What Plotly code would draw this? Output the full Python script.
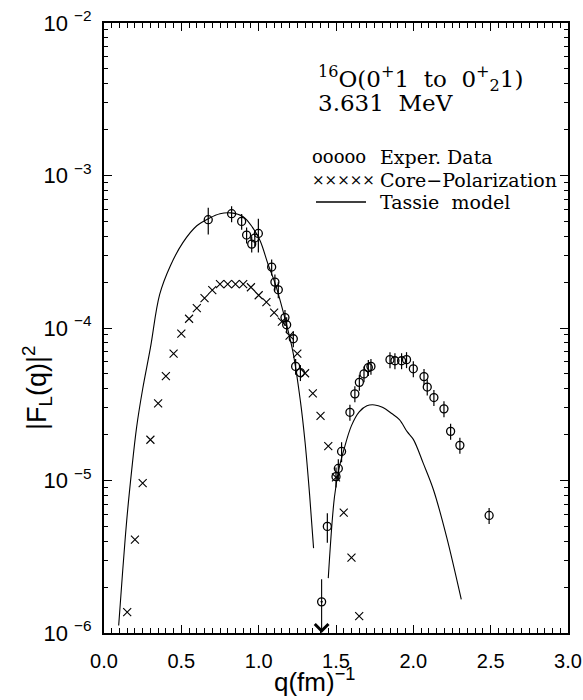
import math
import plotly.graph_objects as go

# ---------------- data ----------------
# Experimental data (circles with error bars)
exp_q = [0.674, 0.825, 0.890, 0.922, 0.955, 0.975, 0.998, 1.084, 1.105, 1.127,
         1.170, 1.181, 1.224, 1.239, 1.270,
         1.444, 1.500, 1.515, 1.536, 1.590, 1.622, 1.651, 1.681, 1.709, 1.726,
         1.849, 1.881, 1.924, 1.956, 2.000, 2.069, 2.090, 2.133, 2.198, 2.241,
         2.301, 2.490]
exp_f = [5.13e-4, 5.62e-4, 5.0e-4, 4.07e-4, 3.55e-4, 3.89e-4, 4.17e-4, 2.51e-4, 2.0e-4, 1.78e-4,
         1.17e-4, 1.05e-4, 8.5e-5, 5.6e-5, 5.1e-5,
         5.0e-6, 1.06e-5, 1.2e-5, 1.55e-5, 2.8e-5, 3.7e-5, 4.4e-5, 5.0e-5, 5.5e-5, 5.6e-5,
         6.2e-5, 6.1e-5, 6.1e-5, 6.2e-5, 5.4e-5, 4.8e-5, 4.1e-5, 3.5e-5, 2.95e-5, 2.1e-5,
         1.7e-5, 5.9e-6]
exp_rel_err = [0.20, 0.12, 0.12, 0.12, 0.12, 0.12, 0.25, 0.12, 0.12, 0.12,
               0.12, 0.12, 0.12, 0.12, 0.12,
               0.22, 0.15, 0.15, 0.15, 0.12, 0.12, 0.12, 0.12, 0.12, 0.12,
               0.12, 0.12, 0.12, 0.12, 0.12, 0.12, 0.12, 0.12, 0.12, 0.12,
               0.12, 0.12]

# Upper-limit point (arrow down)
ul_q = [1.407]
ul_f = [1.6e-6]
ul_top = [2.3e-6]
ul_tip = [1.0e-6]

# Core-polarization (crosses)
cp_q = [0.15, 0.20, 0.25, 0.30, 0.35, 0.40, 0.45, 0.50, 0.55, 0.60,
        0.65, 0.70, 0.75, 0.80, 0.85, 0.90, 0.95, 1.00, 1.05, 1.10,
        1.15, 1.20, 1.25, 1.30, 1.35, 1.40, 1.45, 1.50, 1.55, 1.60, 1.65]
cp_f = [1.37e-6, 4.1e-6, 9.6e-6, 1.85e-5, 3.2e-5, 4.84e-5, 6.8e-5, 9.2e-5, 1.15e-4, 1.35e-4,
        1.57e-4, 1.77e-4, 1.94e-4, 1.94e-4, 1.94e-4, 1.94e-4, 1.85e-4, 1.64e-4, 1.48e-4, 1.26e-4,
        1.10e-4, 8.9e-5, 6.8e-5, 5.05e-5, 3.73e-5, 2.65e-5, 1.68e-5, 1.05e-5, 6.15e-6, 3.12e-6, 1.29e-6]

# Tassie model (solid line, two lobes)
tassie_q1 = [0.095, 0.121, 0.147, 0.179, 0.211, 0.25, 0.30, 0.36, 0.43, 0.51,
             0.60, 0.68, 0.75, 0.82, 0.90, 0.96, 1.01, 1.06, 1.11, 1.16,
             1.22, 1.27, 1.30, 1.33, 1.355]
tassie_f1 = [1.12e-6, 2.57e-6, 5.5e-6, 1.17e-5, 2.24e-5, 3.98e-5, 7.4e-5, 1.66e-4, 2.57e-4, 3.63e-4,
             4.68e-4, 5.25e-4, 5.62e-4, 5.69e-4, 5.37e-4, 4.57e-4, 3.72e-4, 2.63e-4, 1.91e-4, 1.26e-4,
             7.1e-5, 3.3e-5, 1.78e-5, 7.9e-6, 3.6e-6]
tassie_q2 = [1.45, 1.49, 1.52, 1.55, 1.60, 1.65, 1.70, 1.75, 1.80, 1.86,
             1.91, 1.96, 2.00, 2.065, 2.13, 2.215, 2.31]
tassie_f2 = [2.29e-6, 7.8e-6, 1.2e-5, 1.58e-5, 2.29e-5, 2.82e-5, 3.09e-5, 3.13e-5, 3.02e-5, 2.75e-5,
             2.51e-5, 2.09e-5, 1.86e-5, 1.29e-5, 8.7e-6, 4.27e-6, 1.66e-6]

# Axis ticks
x_ticks = [0.0, 0.5, 1.0, 1.5, 2.0, 2.5, 3.0]
x_ticklabels = ["0.0", "0.5", "1.0", "1.5", "2.0", "2.5", "3.0"]
y_exponents = [-6, -5, -4, -3, -2]

# ---------------- figure ----------------
BLACK = "#000000"
fig = go.Figure()

fig.add_trace(go.Scatter(x=tassie_q1, y=tassie_f1, mode="lines",
                         line=dict(color=BLACK, width=1.1, shape="spline"),
                         showlegend=False, hoverinfo="skip"))
fig.add_trace(go.Scatter(x=tassie_q2, y=tassie_f2, mode="lines",
                         line=dict(color=BLACK, width=1.1, shape="spline"),
                         showlegend=False, hoverinfo="skip"))

fig.add_trace(go.Scatter(x=cp_q, y=cp_f, mode="markers",
                         marker=dict(symbol="x-thin-open", size=8, color=BLACK,
                                     line=dict(color=BLACK, width=1.1)),
                         showlegend=False))

err_plus = [f * e for f, e in zip(exp_f, exp_rel_err)]
err_minus = [f * e for f, e in zip(exp_f, exp_rel_err)]
fig.add_trace(go.Scatter(x=exp_q, y=exp_f, mode="markers",
                         marker=dict(symbol="circle-open", size=8, color=BLACK,
                                     line=dict(color=BLACK, width=1.3)),
                         error_y=dict(type="data", symmetric=False, array=err_plus,
                                      arrayminus=err_minus, color=BLACK,
                                      thickness=1.2, width=0),
                         showlegend=False))

fig.add_trace(go.Scatter(x=ul_q, y=ul_f, mode="markers",
                         marker=dict(symbol="circle-open-dot", size=8, color=BLACK,
                                     line=dict(color=BLACK, width=1.3)),
                         showlegend=False))
for q, top, tip in zip(ul_q, ul_top, ul_tip):
    fig.add_annotation(x=q, y=math.log10(tip), ax=q, ay=math.log10(top),
                       xref="x", yref="y", axref="x", ayref="y",
                       showarrow=True, arrowhead=4, arrowsize=2.4, arrowwidth=1.1,
                       arrowcolor=BLACK, text="")

# ---------------- in-plot texts (legend + title) ----------------
def px_to_paper(px, py):
    return (px - 104) / 464.0, 1 - (py - 23) / 610.0

SERIF = "DejaVu Serif, Liberation Serif, serif"

x0, y0 = px_to_paper(316, 79)
fig.add_annotation(x=x0, y=y0, xref="paper", yref="paper", xanchor="left", yanchor="middle",
                   text="<sup>16</sup>O(0<sup>+</sup>1  to  0<sup>+</sup><sub>2</sub>1)",
                   showarrow=False, font=dict(family=SERIF, size=23, color=BLACK))
x0, y0 = px_to_paper(316, 103)
fig.add_annotation(x=x0, y=y0, xref="paper", yref="paper", xanchor="left", yanchor="middle",
                   text="3.631  MeV", showarrow=False,
                   font=dict(family=SERIF, size=23, color=BLACK))

legend_rows = [("ooooo", "Exper. Data", 157), ("×××××", "Core−Polarization", 180), (None, "Tassie  model", 202)]
for sym, label, py in legend_rows:
    xs, ys = px_to_paper(310, py)
    xt, _ = px_to_paper(378, py)
    if sym is not None:
        fig.add_annotation(x=xs, y=ys, xref="paper", yref="paper", xanchor="left", yanchor="middle",
                           text=sym, showarrow=False,
                           font=dict(family=SERIF, size=15 if sym.startswith("×") else 18, color=BLACK))
    else:
        la, lb = px_to_paper(316, py)
        lc, _ = px_to_paper(366, py)
        fig.add_shape(type="line", xref="paper", yref="paper", x0=la, x1=lc, y0=lb, y1=lb,
                      line=dict(color=BLACK, width=1.3))
    fig.add_annotation(x=xt, y=ys, xref="paper", yref="paper", xanchor="left", yanchor="middle",
                       text=label, showarrow=False, font=dict(family=SERIF, size=19, color=BLACK))

# axis titles
xa, ya = px_to_paper(314, 680)
fig.add_annotation(x=xa, y=ya, xref="paper", yref="paper", xanchor="center", yanchor="middle",
                   text="q(fm)<sup>−1</sup>", showarrow=False,
                   font=dict(family="Liberation Sans, Arial, sans-serif", size=26, color=BLACK))
xa, ya = px_to_paper(37, 388)
fig.add_annotation(x=xa, y=ya, xref="paper", yref="paper", xanchor="center", yanchor="middle",
                   textangle=-90, text="|F<sub>L</sub>(q)|<sup>2</sup>", showarrow=False,
                   font=dict(family="Liberation Sans, Arial, sans-serif", size=27, color=BLACK))

# ---------------- axes ----------------
y_tickvals = [10.0 ** e for e in y_exponents]
y_ticktext = ["10 <sup>−%d</sup>" % (-e) for e in y_exponents]
y_minor = [k * 10.0 ** e for e in y_exponents[:-1] for k in range(2, 10)]

fig.update_xaxes(range=[0, 3], tickmode="array", tickvals=x_ticks, ticktext=x_ticklabels,
                 ticks="inside", ticklen=8, tickwidth=1.2, tickcolor=BLACK,
                 showline=True, linecolor=BLACK, linewidth=2, mirror="allticks",
                 showgrid=False, zeroline=False, automargin=False,
                 ticklabeloverflow="allow",
                 tickfont=dict(family="Liberation Sans, Arial, sans-serif", size=20, color=BLACK),
                 ticklabelstandoff=9,
                 minor=dict(dtick=0.05, tick0=0, ticks="inside", ticklen=5, tickwidth=1.1,
                            tickcolor=BLACK, showgrid=False))
fig.update_yaxes(type="log", range=[-6, -2], tickmode="array", tickvals=y_tickvals,
                 ticktext=y_ticktext,
                 ticks="inside", ticklen=8, tickwidth=1.2, tickcolor=BLACK,
                 showline=True, linecolor=BLACK, linewidth=2, mirror="allticks",
                 showgrid=False, zeroline=False, automargin=False,
                 ticklabeloverflow="allow",
                 tickfont=dict(family="Liberation Sans, Arial, sans-serif",
                               size=22, color=BLACK),
                 ticklabelstandoff=6,
                 minor=dict(tickmode="array", tickvals=y_minor, ticks="inside", ticklen=4,
                            tickwidth=1.1, tickcolor=BLACK, showgrid=False))

fig.update_layout(width=583, height=700, margin=dict(l=104, r=15, t=23, b=67),
                  plot_bgcolor="white", paper_bgcolor="white", showlegend=False)

fig.write_html("out.html", config={"displayModeBar": False},
               post_script="document.body.style.margin='0px';document.body.style.padding='0px';")
